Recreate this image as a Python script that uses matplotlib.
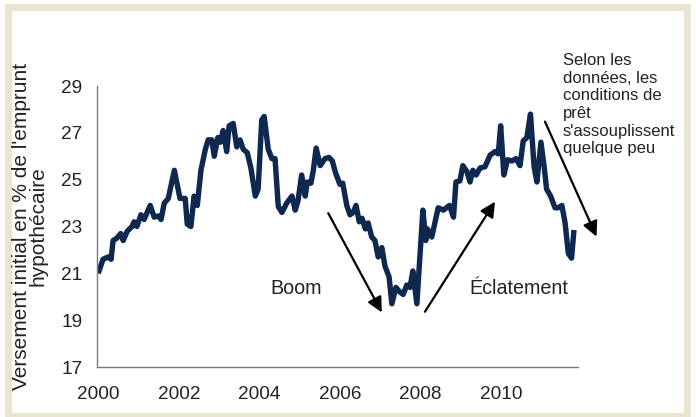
import matplotlib
matplotlib.use("Agg")
import matplotlib.pyplot as plt
from matplotlib.patches import Rectangle

# Mortgage down payment as a share of the loan (%), by decimal year
years = [
    2000.00, 2000.02, 2000.12, 2000.25, 2000.32, 2000.37, 2000.46, 2000.56, 2000.62, 2000.72,
    2000.84, 2000.89, 2000.96, 2001.06, 2001.14, 2001.29, 2001.39, 2001.49, 2001.56, 2001.64,
    2001.74, 2001.89, 2002.03, 2002.16, 2002.21, 2002.30, 2002.38, 2002.46, 2002.55, 2002.66,
    2002.73, 2002.82, 2002.88, 2002.97, 2003.03, 2003.10, 2003.19, 2003.25, 2003.35, 2003.44,
    2003.52, 2003.60, 2003.70, 2003.79, 2003.90, 2003.97, 2004.06, 2004.12, 2004.22, 2004.31,
    2004.39, 2004.47, 2004.56, 2004.68, 2004.81, 2004.89, 2004.96, 2005.05, 2005.14, 2005.19,
    2005.28, 2005.34, 2005.41, 2005.51, 2005.63, 2005.73, 2005.81, 2005.89, 2006.00, 2006.07,
    2006.17, 2006.25, 2006.33, 2006.40, 2006.48, 2006.55, 2006.63, 2006.70, 2006.79, 2006.87,
    2006.95, 2007.04, 2007.12, 2007.22, 2007.29, 2007.39, 2007.49, 2007.57, 2007.66, 2007.74,
    2007.81, 2007.91, 2008.06, 2008.13, 2008.17, 2008.28, 2008.44, 2008.57, 2008.72, 2008.82,
    2008.88, 2008.98, 2009.05, 2009.15, 2009.23, 2009.30, 2009.38, 2009.48, 2009.60, 2009.73,
    2009.85, 2009.93, 2009.99, 2010.07, 2010.16, 2010.27, 2010.37, 2010.47, 2010.55, 2010.64,
    2010.73, 2010.82, 2010.89, 2010.99, 2011.07, 2011.13, 2011.23, 2011.34, 2011.42, 2011.51,
    2011.59, 2011.67, 2011.75, 2011.81,
]
down_payment = [
    21.0, 21.1, 21.6, 21.7, 21.6, 22.4, 22.5, 22.7, 22.4, 22.8,
    23.0, 23.2, 23.0, 23.5, 23.3, 23.9, 23.4, 23.45, 23.3, 24.0,
    24.2, 25.4, 24.2, 24.2, 23.1, 23.0, 24.3, 23.9, 25.4, 26.3,
    26.7, 26.7, 26.0, 26.8, 26.6, 27.1, 26.2, 27.3, 27.4, 26.4,
    26.7, 26.3, 26.15, 25.5, 24.3, 24.6, 27.55, 27.7, 26.3, 25.9,
    25.9, 23.85, 23.6, 24.0, 24.3, 23.7, 24.1, 25.2, 24.3, 24.9,
    24.85, 25.4, 26.35, 25.6, 25.9, 25.95, 25.8, 25.3, 24.8, 24.85,
    23.9, 23.5, 23.6, 23.9, 23.2, 23.35, 22.9, 23.15, 22.55, 22.4,
    21.7, 22.1, 21.3, 20.85, 19.7, 20.4, 20.2, 20.1, 20.5, 20.4,
    21.1, 19.7, 23.7, 22.4, 22.9, 22.55, 23.8, 23.7, 23.9, 23.4,
    24.9, 24.95, 25.6, 25.35, 24.9, 25.4, 25.2, 25.5, 25.55, 26.05,
    26.2, 26.1, 27.3, 25.2, 25.85, 25.8, 25.9, 25.6, 26.65, 26.8,
    27.8, 25.55, 24.9, 26.6, 25.55, 24.6, 24.3, 23.8, 23.8, 23.9,
    23.15, 21.85, 21.65, 22.85,
]

x_ticks = [2000, 2002, 2004, 2006, 2008, 2010]
y_ticks = [17, 19, 21, 23, 25, 27, 29]

plt.rcParams["font.family"] = ["Liberation Sans", "DejaVu Sans"]

W, H = 696, 417
fig = plt.figure(figsize=(W / 100, H / 100), dpi=100)
fig.patch.set_facecolor("white")

# beige frame around the panel
frame_col = "#EAE5D1"
fig.patches.append(Rectangle((5 / W, 0), 686 / W, 413 / H, transform=fig.transFigure,
                             facecolor=frame_col, edgecolor="none", zorder=-10))
fig.patches.append(Rectangle((12 / W, 4 / H), 672 / W, 402 / H, transform=fig.transFigure,
                             facecolor="white", edgecolor="none", zorder=-9))

ax = fig.add_axes([97 / W, 1 - 367 / H, (578 - 97) / W, (367 - 86) / H])
ax.set_facecolor("none")

ax.plot(years, down_payment, color="#0E2850", lw=3.9, solid_joinstyle="round",
        solid_capstyle="butt")

ax.set_xlim(1999.97, 2011.91)
ax.set_ylim(17, 29)
ax.set_xticks(x_ticks)
ax.set_xticklabels([str(t) for t in x_ticks])
ax.set_yticks(y_ticks)
ax.tick_params(length=0, labelsize=13.7, colors="#222222")
ax.tick_params(axis="y", pad=10.5)
ax.tick_params(axis="x", pad=14)

for side in ("top", "right"):
    ax.spines[side].set_visible(False)
for side in ("left", "bottom"):
    ax.spines[side].set_color("#7A7A7A")
    ax.spines[side].set_linewidth(1.0)

ax.set_ylabel("Versement initial en % de l'emprunt\nhypothécaire", fontsize=15,
              color="#222222", linespacing=0.8, labelpad=10)

ax.text(2004.91, 20.35, "Boom", fontsize=14.2, color="#222222", ha="center", va="center")
ax.text(2010.45, 20.35, "Éclatement", fontsize=14.2, color="#222222", ha="center", va="center")

arrow = dict(arrowstyle="-|>,head_length=0.9,head_width=0.45", color="black", lw=1.6,
             shrinkA=0, shrinkB=0)
ax.annotate("", xy=(2007.04, 19.33), xytext=(2005.71, 23.57), arrowprops=arrow,
            annotation_clip=False)
ax.annotate("", xy=(2009.85, 24.06), xytext=(2008.11, 19.36), arrowprops=arrow,
            annotation_clip=False)
ax.annotate("", xy=(2012.37, 22.57), xytext=(2011.09, 27.48), arrowprops=arrow,
            annotation_clip=False)

fig.text(563 / W, 1 - 53 / H,
         "Selon les\ndonnées, les\nconditions de\nprêt\ns'assouplissent\nquelque peu",
         fontsize=12, color="#222222", ha="left", va="top", linespacing=1.22)

fig.savefig("out.png", dpi=100)
